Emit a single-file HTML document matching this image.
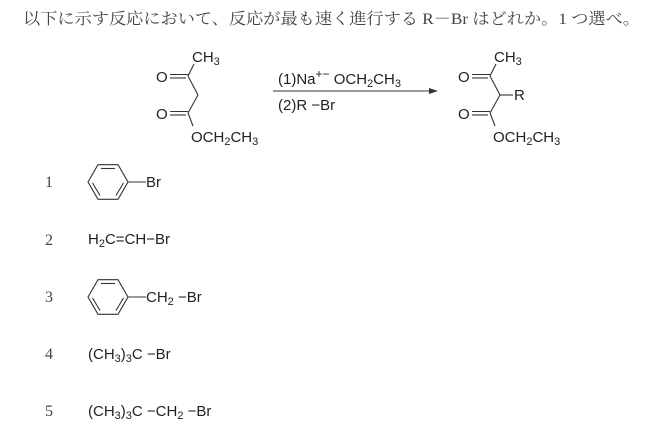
<!DOCTYPE html>
<html><head><meta charset="utf-8"><style>
body{margin:0;background:#fff;width:663px;height:432px;overflow:hidden}
svg text{font-family:"Liberation Sans",sans-serif;font-size:15px;fill:#222}
.s{font-family:"Liberation Serif","Noto Serif CJK SC",serif;fill:#444}
</style></head><body>
<svg width="663" height="432" viewBox="0 0 663 432" stroke="#333" stroke-width="1.1" fill="none">
<text class="s" x="23" y="24" textLength="617" lengthAdjust="spacingAndGlyphs" style="font-size:16px" stroke="none">以下に示す反応において、反応が最も速く進行する R－Br はどれか。1 つ選べ。</text>
<g id="m">
<text x="192" y="62" stroke="none">CH<tspan font-size="11" dy="3">3</tspan></text>
<text x="156" y="82" stroke="none">O</text>
<line x1="170" y1="74.5" x2="188" y2="74.5"/><line x1="170" y1="78" x2="186" y2="78"/>
<line x1="188" y1="76" x2="194" y2="64"/>
<line x1="188" y1="76" x2="198" y2="95"/>
<line x1="198" y1="95" x2="188" y2="113"/>
<text x="156" y="119" stroke="none">O</text>
<line x1="170" y1="111.5" x2="188" y2="111.5"/><line x1="170" y1="115" x2="186" y2="115"/>
<line x1="188" y1="113" x2="193" y2="126"/>
<text x="191" y="142" stroke="none">OCH<tspan font-size="11" dy="3">2</tspan><tspan dy="-3">CH</tspan><tspan font-size="11" dy="3">3</tspan></text>
</g>
<text x="278" y="84" stroke="none">(1)Na<tspan font-size="12" dy="-6">+−</tspan><tspan dy="6"> OCH</tspan><tspan font-size="11" dy="3">2</tspan><tspan dy="-3">CH</tspan><tspan font-size="11" dy="3">3</tspan></text>
<line x1="273" y1="91" x2="432" y2="91"/>
<polygon points="438,91 429,88 429,94" fill="#333" stroke="none"/>
<text x="278" y="110" stroke="none">(2)R −Br</text>
<g transform="translate(302,0)">
<text x="192" y="62" stroke="none">CH<tspan font-size="11" dy="3">3</tspan></text>
<text x="156" y="82" stroke="none">O</text>
<line x1="170" y1="74.5" x2="188" y2="74.5"/><line x1="170" y1="78" x2="186" y2="78"/>
<line x1="188" y1="76" x2="194" y2="64"/>
<line x1="188" y1="76" x2="198" y2="95"/>
<line x1="198" y1="95" x2="188" y2="113"/>
<line x1="198" y1="95" x2="211" y2="95"/>
<text x="212" y="100" stroke="none">R</text>
<text x="156" y="119" stroke="none">O</text>
<line x1="170" y1="111.5" x2="188" y2="111.5"/><line x1="170" y1="115" x2="186" y2="115"/>
<line x1="188" y1="113" x2="193" y2="126"/>
<text x="191" y="142" stroke="none">OCH<tspan font-size="11" dy="3">2</tspan><tspan dy="-3">CH</tspan><tspan font-size="11" dy="3">3</tspan></text>
</g>
<text class="s" x="45" y="187" stroke="none" style="font-size:16px">1</text>
<text class="s" x="45" y="245" stroke="none" style="font-size:16px">2</text>
<text class="s" x="45" y="302" stroke="none" style="font-size:16px">3</text>
<text class="s" x="45" y="359" stroke="none" style="font-size:16px">4</text>
<text class="s" x="45" y="416" stroke="none" style="font-size:16px">5</text>
<g transform="translate(108,182)">
<polygon points="-20,0 -10,-17.3 10,-17.3 20,0 10,17.3 -10,17.3"/>
<line x1="-7" y1="-13.5" x2="7" y2="-13.5"/>
<line x1="-15.5" y1="1" x2="-8" y2="13.5"/>
<line x1="15.5" y1="1" x2="8" y2="13.5"/>
<line x1="20" y1="0" x2="38" y2="0"/>
</g>
<text x="146" y="187" stroke="none">Br</text>
<text x="88" y="244" stroke="none">H<tspan font-size="11" dy="3">2</tspan><tspan dy="-3">C=CH−Br</tspan></text>
<g transform="translate(108,297)">
<polygon points="-20,0 -10,-17.3 10,-17.3 20,0 10,17.3 -10,17.3"/>
<line x1="-7" y1="-13.5" x2="7" y2="-13.5"/>
<line x1="-15.5" y1="1" x2="-8" y2="13.5"/>
<line x1="15.5" y1="1" x2="8" y2="13.5"/>
<line x1="20" y1="0" x2="38" y2="0"/>
</g>
<text x="146" y="302" stroke="none">CH<tspan font-size="11" dy="3">2</tspan><tspan dy="-3"> −Br</tspan></text>
<text x="88" y="359" stroke="none">(CH<tspan font-size="11" dy="3">3</tspan><tspan dy="-3">)</tspan><tspan font-size="11" dy="3">3</tspan><tspan dy="-3">C −Br</tspan></text>
<text x="88" y="416" stroke="none">(CH<tspan font-size="11" dy="3">3</tspan><tspan dy="-3">)</tspan><tspan font-size="11" dy="3">3</tspan><tspan dy="-3">C −CH</tspan><tspan font-size="11" dy="3">2</tspan><tspan dy="-3"> −Br</tspan></text>
</svg>
</body></html>
